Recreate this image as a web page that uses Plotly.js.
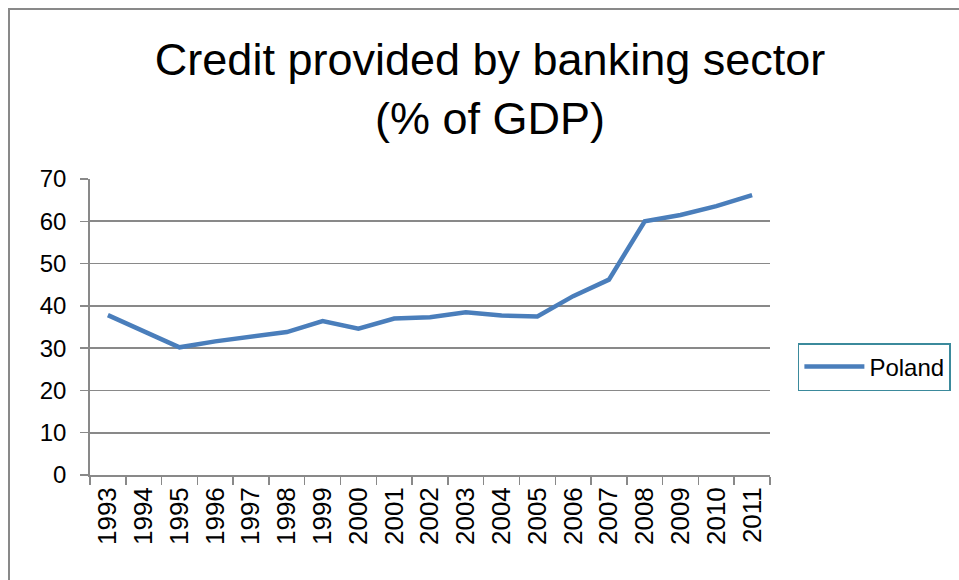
<!DOCTYPE html>
<html>
<head>
<meta charset="utf-8">
<script src="https://cdn.plot.ly/plotly-3.0.1.min.js"></script>
<style>
  html, body { margin: 0; padding: 0; background: #fff; }
  #wrap { position: relative; width: 959px; height: 580px; overflow: hidden; }
  #chart { position: absolute; left: 0; top: 0; width: 959px; height: 580px; }
  #frame { position: absolute; left: 8px; top: 8px; width: 1000px; height: 700px;
           border-left: 2px solid #898989; border-top: 2px solid #898989; pointer-events: none; }
</style>
</head>
<body>
<div id="wrap">
  <div id="chart"></div>
  <div id="frame"></div>
</div>
<script>
const years = ["1993","1994","1995","1996","1997","1998","1999","2000","2001","2002",
               "2003","2004","2005","2006","2007","2008","2009","2010","2011"];
const poland = [37.8, 34.0, 30.2, 31.6, 32.6, 33.8, 36.4, 34.6, 37.0, 37.3,
                38.5, 37.7, 37.5, 42.3, 46.2, 60.0, 61.5, 63.6, 66.2];
const seriesName = "Poland";
const titleText = "Credit provided by banking sector<br>(% of GDP)";
const yTicks = [0, 10, 20, 30, 40, 50, 60, 70];

const FONT = "Liberation Sans, Arial, sans-serif";

const trace = {
  x: years, y: poland, type: "scatter", mode: "lines", name: seriesName,
  line: { color: "#4a7ebb", width: 4.5 }
};

const layout = {
  width: 959, height: 580,
  margin: { l: 90, r: 189, t: 179, b: 105 },
  paper_bgcolor: "#ffffff", plot_bgcolor: "#ffffff",
  font: { family: FONT, color: "#000000", size: 24 },
  title: {
    text: titleText,
    font: { family: FONT, size: 45, color: "#000000" },
    x: 0.511, xref: "container", xanchor: "center",
    y: 0.870, yref: "container", yanchor: "top"
  },
  showlegend: true,
  legend: {
    xref: "container", yref: "container",
    x: 0.832, xanchor: "left", y: 0.4086, yanchor: "top",
    bordercolor: "#3b8a9c", borderwidth: 1.5, bgcolor: "#ffffff",
    font: { family: FONT, size: 24, color: "#000000" },
    itemwidth: 60
  },
  xaxis: {
    type: "category", range: [-0.5, 18.5],
    tickmode: "array", tickvals: years, ticktext: years,
    tickangle: -90, tickson: "boundaries",
    ticks: "outside", ticklen: 8, tickwidth: 1.5, tickcolor: "#898989",
    showline: true, linecolor: "#898989", linewidth: 1.8,
    showgrid: false, zeroline: false, automargin: false,
    tickfont: { family: FONT, size: 26, color: "#000000" },
    fixedrange: true
  },
  yaxis: {
    range: [0, 70], tickmode: "array", tickvals: yTicks,
    ticks: "outside", ticklen: 8, tickwidth: 1.5, tickcolor: "#898989",
    showline: true, linecolor: "#898989", linewidth: 1.8,
    showgrid: true, gridcolor: "#898989", gridwidth: 1.8,
    zeroline: false, ticklabelstandoff: 9, automargin: false,
    tickfont: { family: FONT, size: 24, color: "#000000" },
    fixedrange: true
  }
};

Plotly.newPlot("chart", [trace], layout, { displayModeBar: false, staticPlot: true });
</script>
</body>
</html>
